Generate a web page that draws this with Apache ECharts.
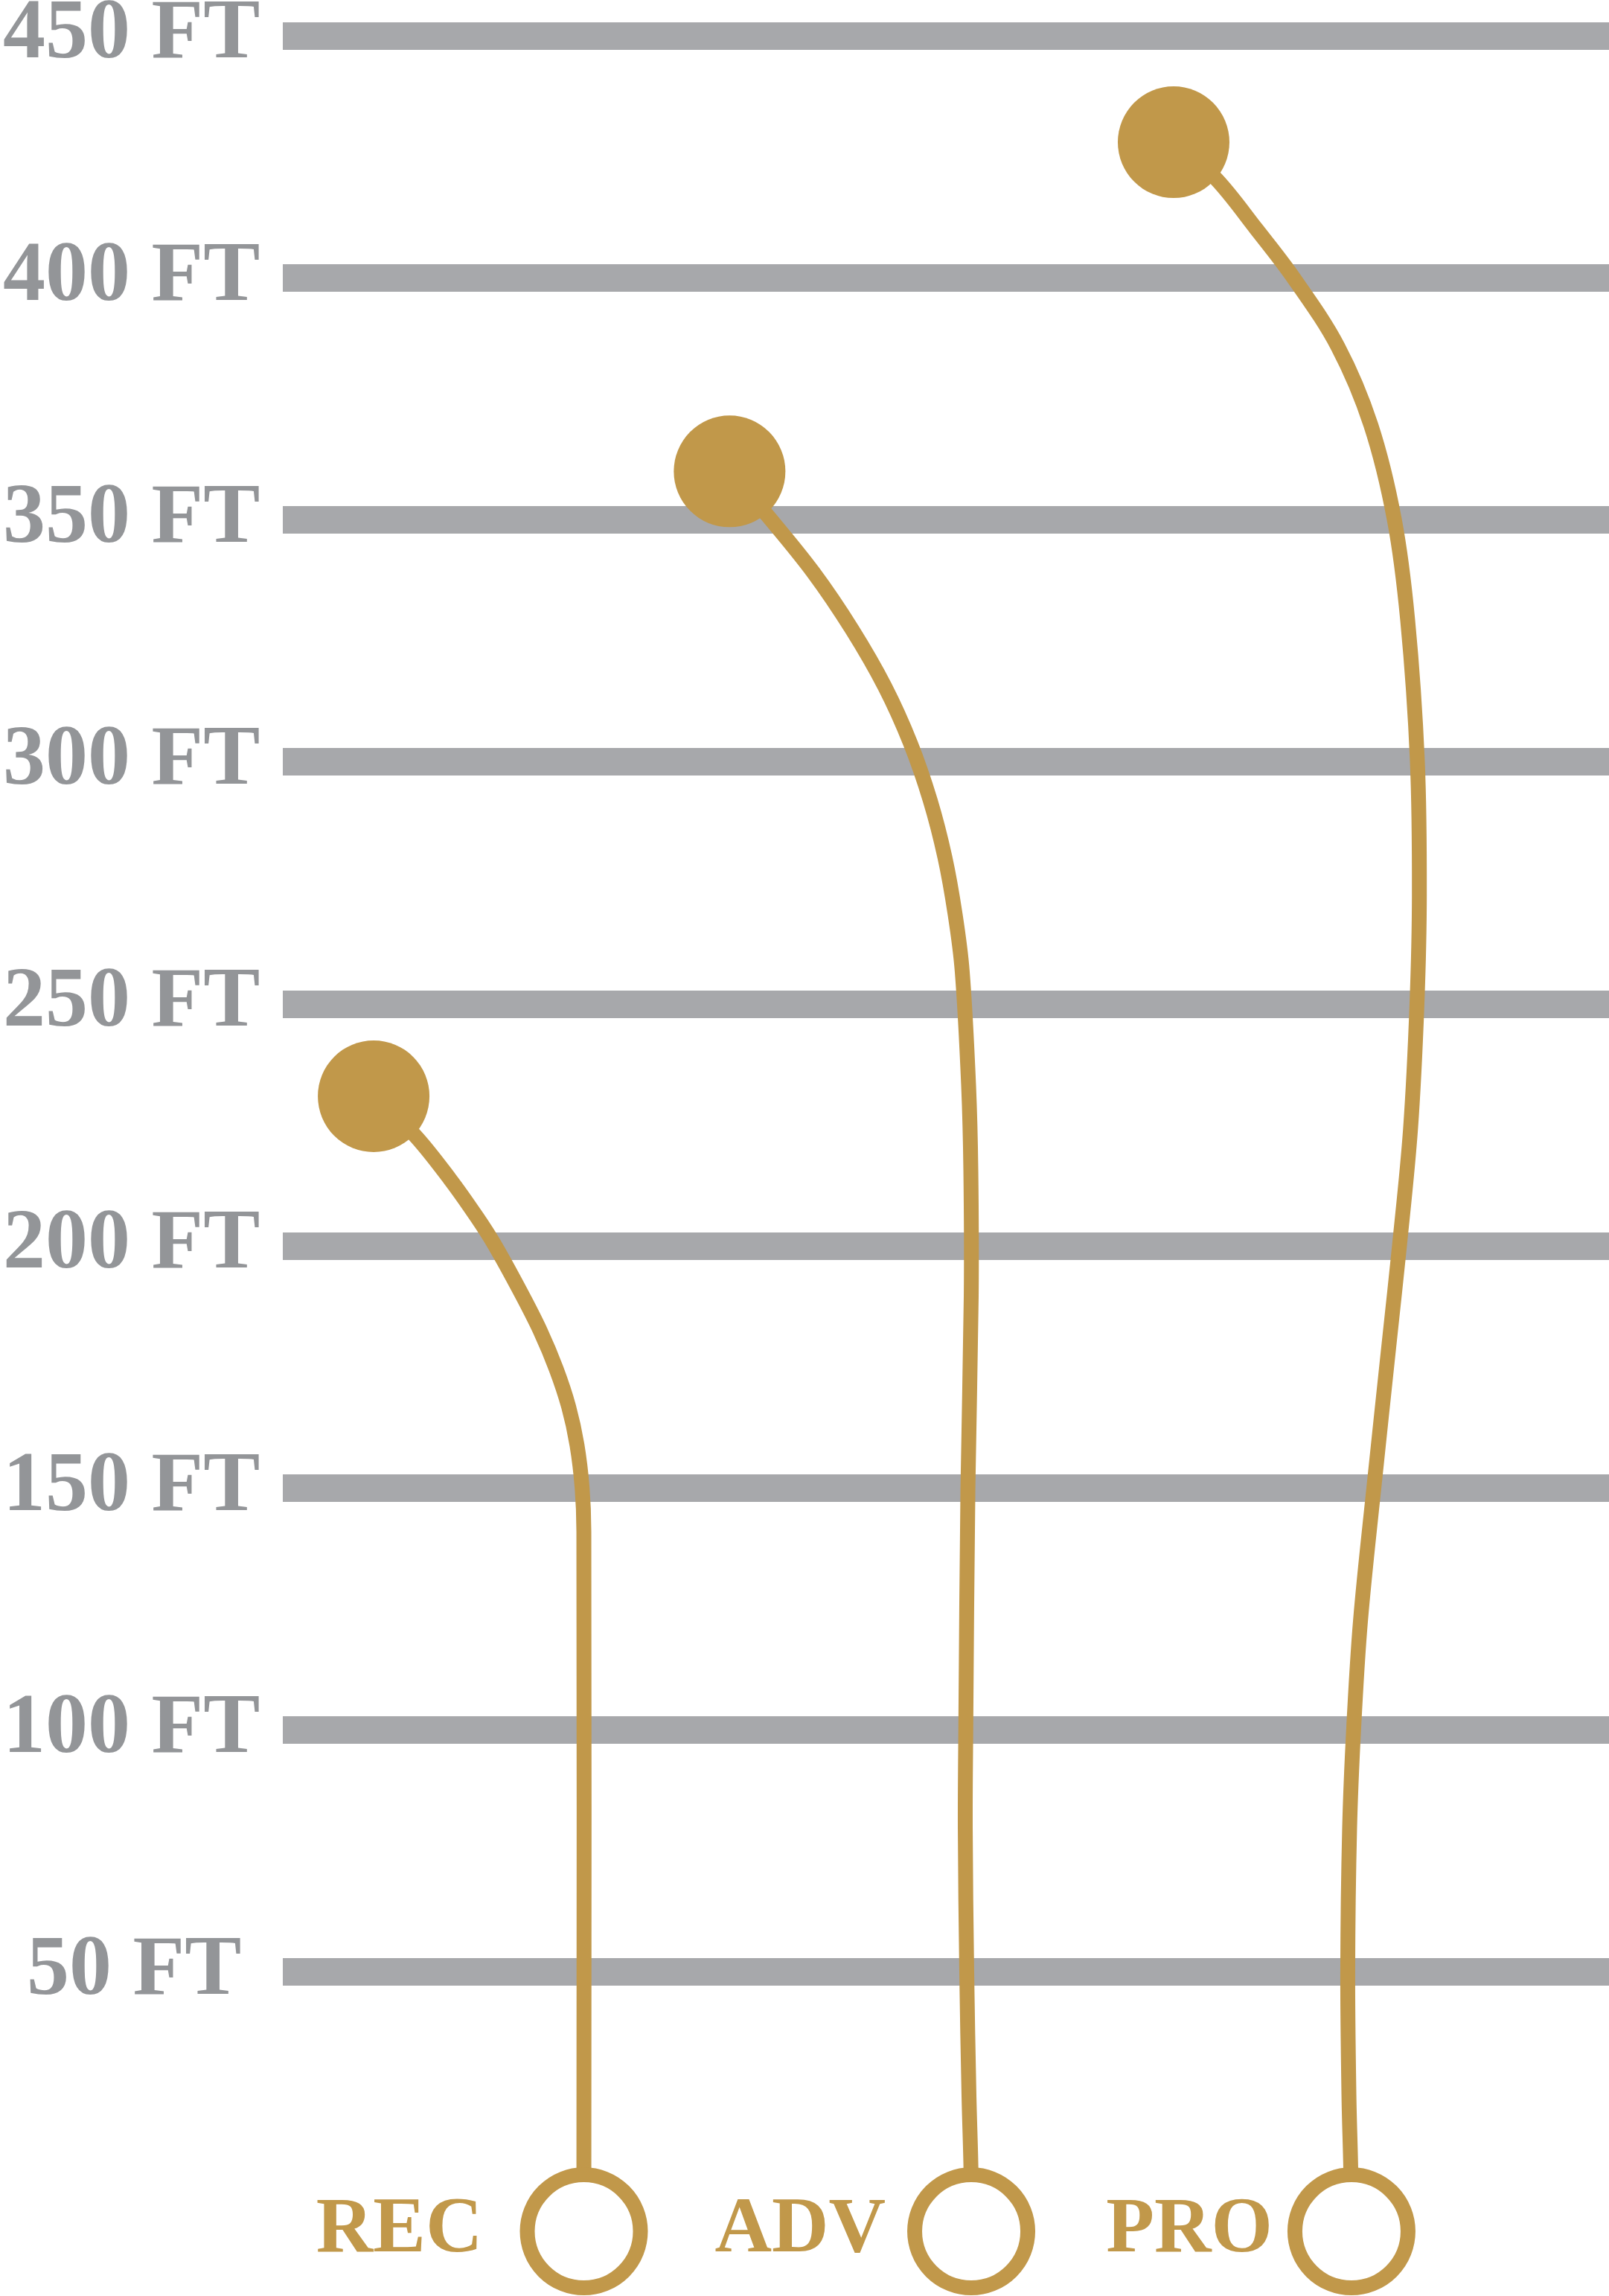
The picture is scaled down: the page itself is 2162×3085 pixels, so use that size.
<!DOCTYPE html>
<html>
<head>
<meta charset="utf-8">
<script src="https://cdn.jsdelivr.net/npm/echarts@6/dist/echarts.min.js"></script>
<style>
  html, body { margin: 0; padding: 0; background: #ffffff; }
  #chart { width: 2162px; height: 3085px; }
</style>
</head>
<body>
<div id="chart"></div>
<script>
// ---- data (x = % of plot width, y = feet) ----
const categories = ['REC', 'ADV', 'PRO'];
const reachFt = [230.9, 360.0, 428.0];
const dotX = [6.85, 33.69, 67.17];
const baseX = [22.70, 51.91, 80.58];
const baseFt = -3.6;
const tickValues = [50, 100, 150, 200, 250, 300, 350, 400, 450];

const recPath = [[6.85,230.9],[9.93,222.9],[12.60,213.8],[14.62,206.0],[15.97,200.2],[17.96,190.3],[19.40,182.5],[20.61,174.6],[21.55,166.8],[22.18,158.9],[22.57,150.0],[22.70,141.0],[22.70,-3.6]];
const advPath = [[33.69,360.0],[36.57,350.8],[40.01,339.1],[42.93,327.3],[45.40,315.5],[47.33,303.8],[48.82,292.0],[49.92,280.3],[50.70,268.4],[51.23,256.7],[51.71,233.2],[51.88,215.5],[51.91,189.9],[51.66,150.0],[51.50,100.4],[51.46,79.6],[51.57,50.1],[51.74,24.4],[51.89,9.0],[51.91,-3.6]];
const proPath = [[67.17,428.0],[70.31,420.6],[73.40,410.1],[76.21,400.0],[79.55,385.8],[82.04,369.6],[83.81,350.1],[84.82,329.2],[85.55,300.1],[85.70,272.6],[85.52,250.0],[85.03,224.0],[84.20,200.0],[83.45,180.6],[82.27,150.0],[81.26,122.5],[80.75,100.4],[80.44,79.6],[80.30,50.1],[80.39,24.4],[80.53,9.0],[80.58,-3.6]];

// ---- styles ----
const GOLD = '#C1984A';
const GRAY_TEXT = '#939598';
const GRID = '#A7A8AB';
const FONT = '"Liberation Serif", "DejaVu Serif", serif';
const labelGap = [50, 29, 20];
const SMOOTH = 0.35;

const paths = [recPath, advPath, proPath];

// smooth cubic path through screen points (classic ECharts-style smoothing)
function smoothPathData(pts, s) {
  const n = pts.length;
  const cps = pts.map((p, i) => {
    if (i === 0 || i === n - 1) return [p, p];
    const prev = pts[i - 1], next = pts[i + 1];
    const vx = next[0] - prev[0], vy = next[1] - prev[1];
    const l0 = Math.hypot(p[0] - prev[0], p[1] - prev[1]);
    const l1 = Math.hypot(next[0] - p[0], next[1] - p[1]);
    const r = l1 / (l0 + l1);
    return [[p[0] - vx * s * (1 - r), p[1] - vy * s * (1 - r)],
            [p[0] + vx * s * r, p[1] + vy * s * r]];
  });
  let d = 'M' + pts[0][0] + ' ' + pts[0][1];
  for (let i = 1; i < n; i++) {
    const c1 = cps[i - 1][1], c2 = cps[i][0], p = pts[i];
    d += ' C' + c1[0] + ' ' + c1[1] + ' ' + c2[0] + ' ' + c2[1] + ' ' + p[0] + ' ' + p[1];
  }
  return d;
}

const curveSeries = paths.map((path, i) => ({
  type: 'custom',
  name: categories[i],
  coordinateSystem: 'cartesian2d',
  clip: false,
  silent: true,
  z: 2,
  data: [path[0]],
  renderItem: (params, api) => {
    const pts = path.map(p => api.coord(p));
    return {
      type: 'path',
      shape: { pathData: smoothPathData(pts, SMOOTH) },
      style: { fill: 'none', stroke: GOLD, lineWidth: 20, lineCap: 'butt', lineJoin: 'round' }
    };
  }
}));

const chart = echarts.init(document.getElementById('chart'), null, { renderer: 'canvas' });
chart.setOption({
  animation: false,
  backgroundColor: '#ffffff',
  grid: { left: 380, right: 0, top: 48, bottom: 435.5, containLabel: false, outerBoundsMode: 'none' },
  xAxis: { type: 'value', min: 0, max: 100, show: false },
  yAxis: {
    type: 'value', min: 50, max: 450, interval: 50,
    axisLine: { show: false },
    axisTick: { show: false },
    splitLine: { show: true, lineStyle: { color: GRID, width: 37 } },
    axisLabel: {
      show: true,
      align: 'left',
      margin: 376,
      color: GRAY_TEXT,
      fontFamily: FONT,
      fontWeight: 'bold',
      fontSize: 114,
      formatter: v => (v === 50 ? '{p|' + v + ' FT}' : v + ' FT'),
      rich: {
        p: { padding: [0, 0, 0, 32], color: GRAY_TEXT, fontFamily: FONT, fontWeight: 'bold', fontSize: 114 }
      }
    }
  },
  series: [
    ...curveSeries,
    {
      type: 'scatter',
      name: 'reach',
      clip: false,
      symbol: 'circle',
      symbolSize: 150,
      itemStyle: { color: GOLD, opacity: 1 },
      data: categories.map((c, i) => [dotX[i], reachFt[i]]),
      z: 4,
      silent: true
    },
    {
      type: 'scatter',
      name: 'base',
      clip: false,
      symbol: 'circle',
      symbolSize: 152,
      itemStyle: { color: '#ffffff', borderColor: GOLD, borderWidth: 20, opacity: 1 },
      data: categories.map((c, i) => ({
        value: [baseX[i], baseFt],
        label: {
          show: true,
          position: 'left',
          distance: labelGap[i],
          formatter: c,
          color: GOLD,
          fontFamily: FONT,
          fontWeight: 'bold',
          fontSize: 106
        }
      })),
      z: 4,
      silent: true
    }
  ]
});
</script>
</body>
</html>
